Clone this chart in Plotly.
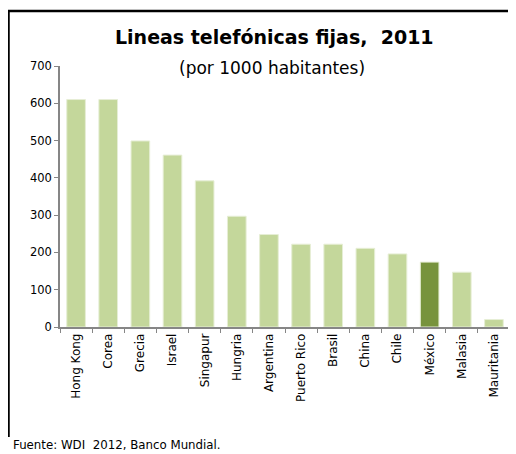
import plotly.graph_objects as go

# ---- Data ----
paises = ["Hong Kong", "Corea", "Grecia", "Israel", "Singapur", "Hungria", "Argentina",
          "Puerto Rico", "Brasil", "China", "Chile", "México", "Malasia", "Mauritania"]
lineas = [610, 610, 499, 461, 392, 297, 248, 222, 222, 211, 196, 174, 147, 20]
destacado = "México"

verde_claro = "#C4D79B"
verde_oscuro = "#77933C"
colores = [verde_oscuro if p == destacado else verde_claro for p in paises]

# page body has an 8px margin, so the figure is shrunk and all
# reference pixel positions are shifted by OFF
OFF = 8
W, H = 516 - OFF, 454 - OFF
ML, MR, MT, MB = 60 - OFF, 6, 66 - OFF, 454 - 327
pw, ph = W - ML - MR, H - MT - MB


def px_x(x):
    return (x - OFF - ML) / pw


def px_y(y):
    return (H - MB - (y - OFF)) / ph


fig = go.Figure()

fig.add_trace(
    go.Bar(
        x=paises,
        y=lineas,
        marker=dict(color=colores, line=dict(color="#E6EED5", width=1)),
        width=0.58,
    )
)

font_fam = "DejaVu Sans, sans-serif"

# ---- Title, subtitle, source ----
fig.add_annotation(
    text="<b>Lineas telefónicas fijas,  2011</b>",
    x=px_x(274), y=px_y(37), xref="paper", yref="paper",
    xanchor="center", yanchor="middle",
    showarrow=False, font=dict(size=19, color="black", family=font_fam),
)
fig.add_annotation(
    text="(por 1000 habitantes)",
    x=px_x(272), y=px_y(68), xref="paper", yref="paper",
    xanchor="center", yanchor="middle",
    showarrow=False, font=dict(size=17, color="black", family=font_fam),
)
fig.add_annotation(
    text="Fuente: WDI  2012, Banco Mundial.",
    x=px_x(11), y=px_y(445), xref="paper", yref="paper",
    xanchor="left", yanchor="middle",
    showarrow=False, font=dict(size=11.8, color="black", family=font_fam),
)

# ---- Frame (left and top edges) ----
fig.add_shape(type="line", xref="paper", yref="paper",
              x0=px_x(OFF + 0.5), x1=px_x(OFF + 0.5), y0=px_y(11), y1=px_y(437),
              line=dict(color="black", width=2.5))
fig.add_shape(type="line", xref="paper", yref="paper",
              x0=px_x(OFF), x1=px_x(530), y0=px_y(11), y1=px_y(11),
              line=dict(color="black", width=2.5))

fig.update_layout(
    width=W, height=H,
    margin=dict(l=ML, r=MR, t=MT, b=MB),
    plot_bgcolor="white", paper_bgcolor="white",
    showlegend=False,
    font=dict(family=font_fam, size=11, color="black"),
    xaxis=dict(
        tickangle=-90,
        showline=True, linecolor="#868686", linewidth=1.5,
        ticks="outside", tickson="boundaries", ticklen=4, tickcolor="#868686",
        tickfont=dict(size=12),
        showgrid=False,
    ),
    yaxis=dict(
        range=[0, 700], dtick=100,
        showline=True, linecolor="#868686", linewidth=1.5,
        ticks="outside", ticklen=4, tickcolor="#868686",
        tickfont=dict(size=11.5),
        showgrid=False, zeroline=False,
    ),
)

fig.write_html("out.html")
